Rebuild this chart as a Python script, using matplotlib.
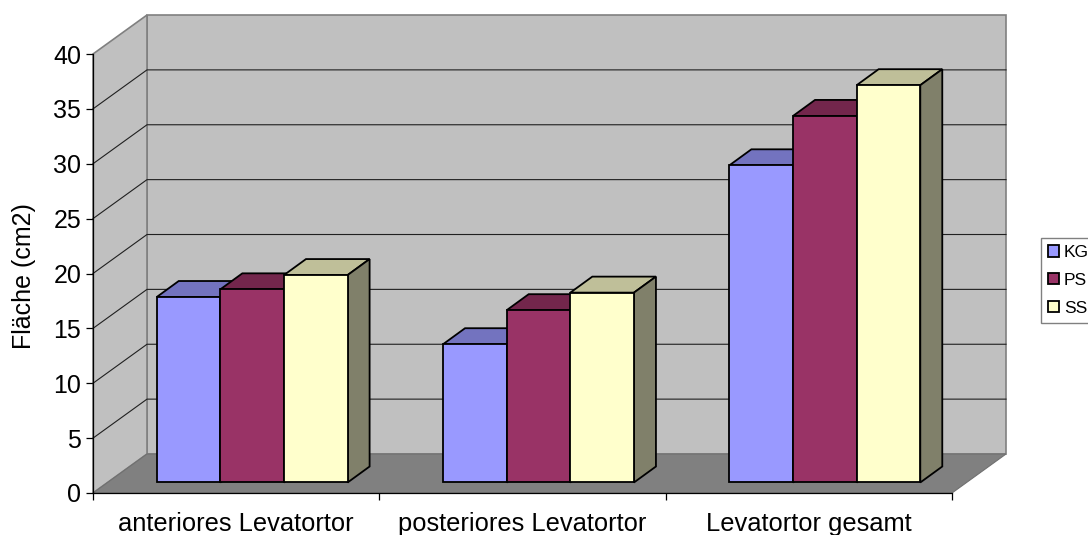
import matplotlib
matplotlib.use("Agg")
from matplotlib import pyplot as plt
from matplotlib.patches import Polygon, Patch
import numpy as np

plt.rcParams['font.family'] = ['Liberation Sans', 'DejaVu Sans']

# Data
categories = ["anteriores Levatortor", "posteriores Levatortor", "Levatortor gesamt"]
series_names = ["KG", "PS", "SS"]
kg = [16.9, 12.6, 28.9]
ps = [17.6, 15.7, 33.4]
ss = [18.9, 17.3, 36.2]
y_ticks = [0, 5, 10, 15, 20, 25, 30, 35, 40]

# Colours: front, top, side
front_colors = ["#9999FF", "#993366", "#FFFFCC"]
top_colors = ["#7373BF", "#73264C", "#BFBF99"]
side_colors = ["#5C5C99", "#5C1F3D", "#80806A"]

# Fake 3D depth, in data units
wall_dx, wall_dy = 0.1886, 3.553
bar_ox, bar_oy = 0.0559, 0.957
bar_dx, bar_dy = 0.0768, 1.458
bar_w = 1 / 4.5
edge_lw = 1.3

fig = plt.figure(figsize=(10.88, 5.35), dpi=100)
ax = fig.add_axes([93 / 1088, 42 / 535, 859 / 1088, 439 / 535])
ax.set_xlim(0, 3)
ax.set_ylim(0, 40)
ax.patch.set_visible(False)

# Walls and floor
ax.add_patch(Polygon([(wall_dx, wall_dy), (3 + wall_dx, wall_dy), (3 + wall_dx, 40 + wall_dy), (wall_dx, 40 + wall_dy)],
                     facecolor="#C0C0C0", edgecolor="#808080", lw=1.2, clip_on=False, zorder=1))
ax.add_patch(Polygon([(0, 0), (wall_dx, wall_dy), (wall_dx, 40 + wall_dy), (0, 40)],
                     facecolor="#C0C0C0", edgecolor="#808080", lw=1.2, clip_on=False, zorder=1))
ax.add_patch(Polygon([(0, 0), (3, 0), (3 + wall_dx, wall_dy), (wall_dx, wall_dy)],
                     facecolor="#808080", edgecolor="#707070", lw=0.8, clip_on=False, zorder=1.5))

# Gridlines, back wall + left wall
for t in y_ticks[1:-1]:
    ax.plot([0, wall_dx, 3 + wall_dx], [t, t + wall_dy, t + wall_dy], color="#202020", lw=0.8,
            clip_on=False, zorder=2)

# Bars
x_pos = np.arange(3) + 0.5 + bar_ox
for j, vals in enumerate([kg, ps, ss]):
    z = 3 + j
    bars = ax.bar(x_pos + (j - 1) * bar_w, vals, bar_w, bottom=bar_oy, color=front_colors[j],
                  edgecolor="black", lw=edge_lw, clip_on=False, zorder=z + 0.5, label=series_names[j])
    for b in bars:
        x0, x1 = b.get_x(), b.get_x() + b.get_width()
        y0, y1 = b.get_y(), b.get_y() + b.get_height()
        ax.add_patch(Polygon([(x0, y1), (x1, y1), (x1 + bar_dx, y1 + bar_dy), (x0 + bar_dx, y1 + bar_dy)],
                             facecolor=top_colors[j], edgecolor="black", lw=edge_lw, clip_on=False, zorder=z))
        ax.add_patch(Polygon([(x1, y0), (x1 + bar_dx, y0 + bar_dy), (x1 + bar_dx, y1 + bar_dy), (x1, y1)],
                             facecolor=side_colors[j], edgecolor="black", lw=edge_lw, clip_on=False, zorder=z))

# Axes
for s in ["top", "right"]:
    ax.spines[s].set_visible(False)
for s in ["left", "bottom"]:
    ax.spines[s].set_linewidth(0.9)
    ax.spines[s].set_zorder(2.5)
ax.set_yticks(y_ticks)
ax.tick_params(axis="y", labelsize=18, length=5, width=0.9, pad=3.5)
ax.set_xticks([0, 1, 2, 3])
ax.set_xticklabels([])
ax.tick_params(axis="x", which="major", length=5, width=0.9)
ax.set_xticks([0.5, 1.5, 2.5], categories, minor=True)
ax.tick_params(axis="x", which="minor", length=0, labelsize=18.4, pad=14)
ax.set_ylabel("Fläche (cm2)", fontsize=18)
ax.yaxis.set_label_coords(-57 / 859, 0.5 - 2.5 / 439)

# Legend runs up to the right edge like the original
handles = [Patch(facecolor=c, edgecolor="black", lw=edge_lw) for c in front_colors]
leg = fig.legend(handles, series_names, loc="upper left", bbox_to_anchor=(1041 / 1088, 1 - 238 / 535),
                 fontsize=12.5, frameon=True, fancybox=False, edgecolor="#808080", framealpha=1,
                 borderaxespad=0, borderpad=0.4, handlelength=0.65, handleheight=0.65,
                 handletextpad=0.27, labelspacing=0.74)
leg.get_frame().set_linewidth(1.0)

fig.savefig("out.png", dpi=100)
